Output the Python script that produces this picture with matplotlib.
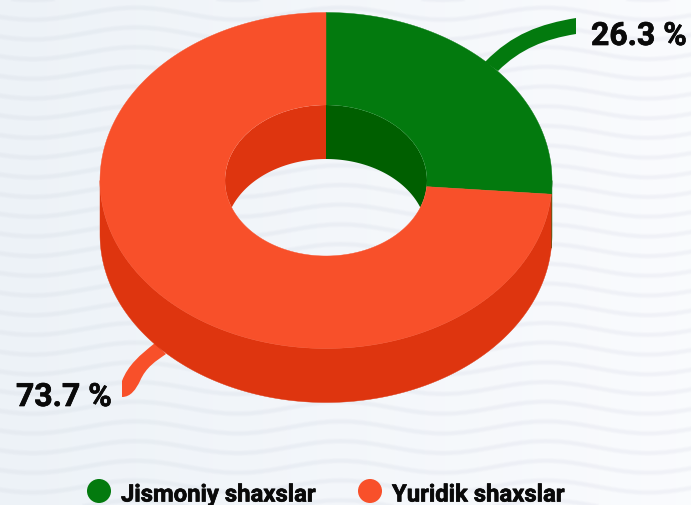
import numpy as np
import matplotlib
matplotlib.use('Agg')
import matplotlib.pyplot as plt
import matplotlib.patheffects as pe
from matplotlib.patches import Polygon, Ellipse, PathPatch, Circle
from matplotlib.path import Path

labels = ['Jismoniy shaxslar', 'Yuridik shaxslar']
values = [26.3, 73.7]
value_labels = ['26.3 %', '73.7 %']
colors = ['#037A0E', '#F8502A']
dark_colors = ['#005F00', '#DE350F']

cx, cy = 326, 181.5
rx, ry = 226, 168
rx_in, ry_in = 101, 75.5
depth = 54

plt.rcParams['font.family'] = ['Roboto', 'DejaVu Sans']

fig = plt.figure(figsize=(6.91, 5.06), dpi=100)
ax = fig.add_axes([0, 0, 1, 1])
ax.set_xlim(0, 691)
ax.set_ylim(506, 0)
ax.axis('off')

# background gradient
grad = np.linspace(0, 1, 256).reshape(1, -1, 1)
left = np.array([0.93, 0.95, 0.97]).reshape(1, 1, 3)
right = np.array([0.98, 0.985, 0.995]).reshape(1, 1, 3)
ax.imshow(left + (right - left) * grad, extent=[0, 691, 506, 0], aspect='auto', zorder=0)

# wavy texture
xs = np.linspace(0, 691, 400)
for y0 in np.arange(-5, 520, 19.7):
    ys = y0 + 6 * np.cos((xs - 33) * 2 * np.pi / 205)
    for lw in [4.2, 3.0, 1.8]:
        ax.plot(xs, ys, color='#6B7280', alpha=0.014, lw=lw, zorder=1)


def pt(t, a, b, dy=0):
    # t is degrees clockwise from the top
    r = np.radians(t)
    return np.column_stack([cx + a * np.sin(r), cy - b * np.cos(r) + dy])


# leader lines
green_leader = Path([(485, 63), (512, 35), (540, 25), (576, 19), (576, 35), (545, 40), (520, 50), (498, 72), (485, 63)],
                    [1, 4, 4, 4, 2, 4, 4, 4, 79])
ax.add_patch(PathPatch(green_leader, fc=colors[0], ec='none', zorder=2))
red_leader = Path([(155, 344), (140, 356), (128, 366), (122, 382), (122, 398), (131, 398), (136, 390), (140, 382),
                   (146, 368), (156, 362), (166, 355), (155, 344)],
                  [1, 4, 4, 4, 2, 4, 4, 4, 4, 4, 4, 79])
ax.add_patch(PathPatch(red_leader, fc=colors[1], ec='none', zorder=2))

angles = np.concatenate([[0], np.cumsum(values) / np.sum(values) * 360])

inner_clip = Ellipse((cx, cy), 2 * rx_in, 2 * ry_in, transform=ax.transData)

for i in range(len(values)):
    a, b = angles[i], angles[i + 1]

    # outer wall, front half only
    lo, hi = max(a, 90), min(b, 270)
    if hi > lo:
        t = np.linspace(lo, hi, 200)
        band = np.vstack([pt(t, rx, ry), pt(t[::-1], rx, ry, depth)])
        ax.add_patch(Polygon(band, fc=dark_colors[i], ec=dark_colors[i], lw=0.3, zorder=3))

    # inner wall, back half only
    for lo, hi in [(max(a, 0), min(b, 90)), (max(a, 270), min(b, 360))]:
        if hi > lo:
            t = np.linspace(lo, hi, 100)
            band = np.vstack([pt(t, rx_in, ry_in), pt(t[::-1], rx_in, ry_in, depth)])
            p = Polygon(band, fc=dark_colors[i], ec='none', zorder=3)
            ax.add_patch(p)
            p.set_clip_path(inner_clip)

    # top face
    t = np.linspace(a, b, 300)
    outer = pt(t, rx, ry)
    inner = pt(t[::-1], rx_in, ry_in)
    ax.add_patch(Polygon(np.vstack([outer, inner]), fc=colors[i], ec=colors[i], lw=0.3, zorder=4))

bold = [pe.withStroke(linewidth=0.5, foreground='#0A0A0A')]
ax.text(591, 37, value_labels[0], fontsize=23, fontweight='bold', color='#0A0A0A', va='center', ha='left', zorder=5,
        path_effects=bold)
ax.text(16, 398, value_labels[1], fontsize=23, fontweight='bold', color='#0A0A0A', va='center', ha='left', zorder=5,
        path_effects=bold)

# legend
for lx, tx, name, c in zip([99, 370], [121, 392], labels, colors):
    ax.add_patch(Circle((lx, 492), 12, fc=c, ec='none', zorder=5))
    ax.text(tx, 496, name, fontsize=17.2, fontweight='bold', color='#0A0A0A', va='center', ha='left', zorder=5,
            path_effects=bold)

fig.savefig('out.png', dpi=100)
